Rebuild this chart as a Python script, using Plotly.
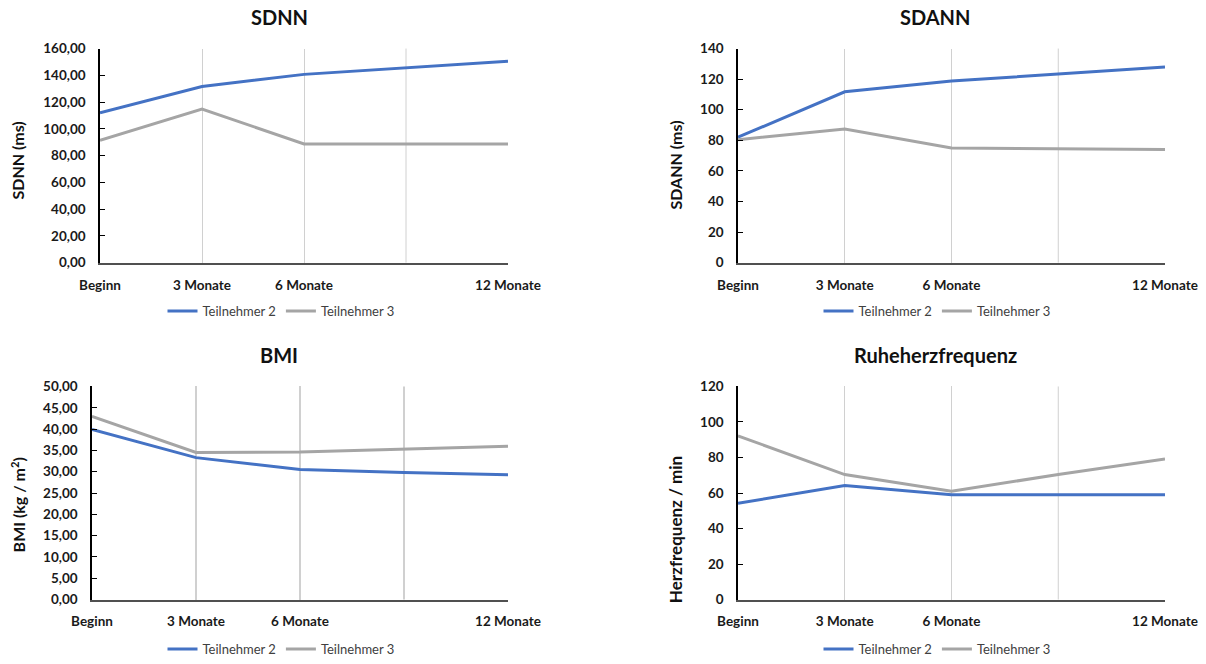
import plotly.graph_objects as go

W, H = 1206, 664

categories = ["Beginn", "3 Monate", "6 Monate", "9 Monate", "12 Monate"]
tick_categories = ["Beginn", "3 Monate", "6 Monate", "12 Monate"]
tick_labels = ["Beginn", "3 Monate", "6 Monate", "12 Monate"]
unlabeled_category = "9 Monate"
series_names = ["Teilnehmer 2", "Teilnehmer 3"]

sdnn_tn2 = [112.0, 131.6, 140.7, 145.7, 150.6]
sdnn_tn3 = [91.4, 114.8, 88.7, 88.7, 88.7]
sdann_tn2 = [82.0, 111.7, 118.8, 123.2, 127.9]
sdann_tn3 = [80.4, 87.3, 75.0, 74.5, 73.9]
bmi_tn2 = [39.9, 33.3, 30.5, 29.8, 29.3]
bmi_tn3 = [43.0, 34.5, 34.6, 35.3, 36.0]
hr_tn2 = [54.2, 64.2, 59.0, 59.0, 59.0]
hr_tn3 = [92.2, 70.4, 61.0, 70.4, 79.1]

titles = ["SDNN", "SDANN", "BMI", "Ruheherzfrequenz"]
y_titles = ["SDNN (ms)", "SDANN (ms)", "BMI (kg / m<sup>2</sup>)", "Herzfrequenz / min"]

BLUE = "#4472C4"
GRAY = "#A5A5A5"
GRID = "#D0D0D0"
FONT = "Lato"

# pixel layout of each panel: (left, right, top, bottom)
panels = [
    (100, 508, 49, 265),
    (738, 1165, 49, 265),
    (92, 508, 390, 605),
    (738, 1165, 390, 605),
]
y_ranges = [(0, 160, 20, ".2f"), (0, 140, 20, "d"), (0, 50, 5, ".2f"), (0, 120, 20, "d")]
data = [(sdnn_tn2, sdnn_tn3), (sdann_tn2, sdann_tn3), (bmi_tn2, bmi_tn3), (hr_tn2, hr_tn3)]
title_pos = [(279, 17), (935, 17), (279, 358), (935, 358)]
ytitle_pos = [(18, 162), (675, 166), (18, 510), (675, 534)]
ytitle_size = [16, 16, 16, 17]
legend_pos = [(281, 314), (937, 314), (281, 655), (937, 655)]
grid_w = [1, 1, 2, 1]

fig = go.Figure()
layout = dict(
    template="none",
    width=W, height=H, margin=dict(l=0, r=0, t=0, b=0, pad=0),
    paper_bgcolor="white", plot_bgcolor="white",
    separators=",.",
    font=dict(family=FONT, color="#1a1a1a"),
    annotations=[], shapes=[],
)

for i in range(4):
    n = i + 1
    sx = "" if n == 1 else str(n)
    l, r, t, b = panels[i]
    tn2, tn3 = data[i]
    leg = "legend" if n == 1 else f"legend{n}"
    for vals, name, col in ((tn2, series_names[0], BLUE), (tn3, series_names[1], GRAY)):
        fig.add_trace(go.Scatter(
            x=categories, y=vals, name=name, mode="lines",
            line=dict(color=col, width=3),
            xaxis="x" + sx, yaxis="y" + sx, legend=leg,
            hoverinfo="skip",
        ))
    y0, y1, dt, fmt = y_ranges[i]
    layout["xaxis" + sx] = dict(
        domain=[l / W, r / W], anchor="y" + sx, automargin=False,
        type="category", categoryorder="array", categoryarray=categories,
        range=[0, len(categories) - 1],
        tickmode="array", tickvals=tick_categories, ticktext=tick_labels,
        showgrid=True, gridcolor=GRID, gridwidth=grid_w[i],
        showline=True, linecolor="#505050", linewidth=1.5,
        ticks="outside", ticklen=9, tickcolor="rgba(0,0,0,0)",
        tickfont=dict(family=FONT, size=13.5, color="#1a1a1a", weight="bold"),
        zeroline=False, fixedrange=True, layer="below traces",
    )
    layout["yaxis" + sx] = dict(
        domain=[1 - b / H, 1 - t / H], anchor="x" + sx, automargin=False,
        range=[y0, y1], dtick=dt, tick0=0, tickformat=fmt,
        showgrid=False, zeroline=False,
        showline=True, linecolor="#000000", linewidth=1.5,
        ticks="inside", ticklen=5, tickcolor="#000000", tickwidth=1,
        ticklabelstandoff=10,
        tickfont=dict(family=FONT, size=13.5, color="#1a1a1a", weight="bold"),
        fixedrange=True,
    )
    # gridline for the unlabeled 9-month category
    layout["shapes"].append(dict(
        type="line", xref="x" + sx, yref="y" + sx + " domain",
        x0=unlabeled_category, x1=unlabeled_category, y0=0, y1=1,
        line=dict(color=GRID, width=grid_w[i]), layer="below",
    ))
    lx, ly = legend_pos[i]
    layout[leg] = dict(
        orientation="h", x=lx / W, y=1 - ly / H, xanchor="center", yanchor="middle",
        bgcolor="rgba(0,0,0,0)", font=dict(family=FONT, size=13, color="#404040"),
        itemclick=False, itemdoubleclick=False,
    )
    tx, ty = title_pos[i]
    layout["annotations"].append(dict(
        text=titles[i], x=tx / W, y=1 - ty / H, xref="paper", yref="paper",
        xanchor="center", yanchor="middle", showarrow=False,
        font=dict(family=FONT, size=20, color="#111111", weight="bold"),
    ))
    ax, ay = ytitle_pos[i]
    layout["annotations"].append(dict(
        text=y_titles[i], x=ax / W, y=1 - ay / H, xref="paper", yref="paper",
        xanchor="center", yanchor="middle", showarrow=False, textangle=-90,
        font=dict(family=FONT, size=ytitle_size[i], color="#111111", weight="bold"),
    ))

fig.update_layout(**layout)
fig.write_html(
    "out.html",
    config={"displayModeBar": False},
    post_script="document.body.style.margin='0';document.body.style.overflow='hidden';",
)
